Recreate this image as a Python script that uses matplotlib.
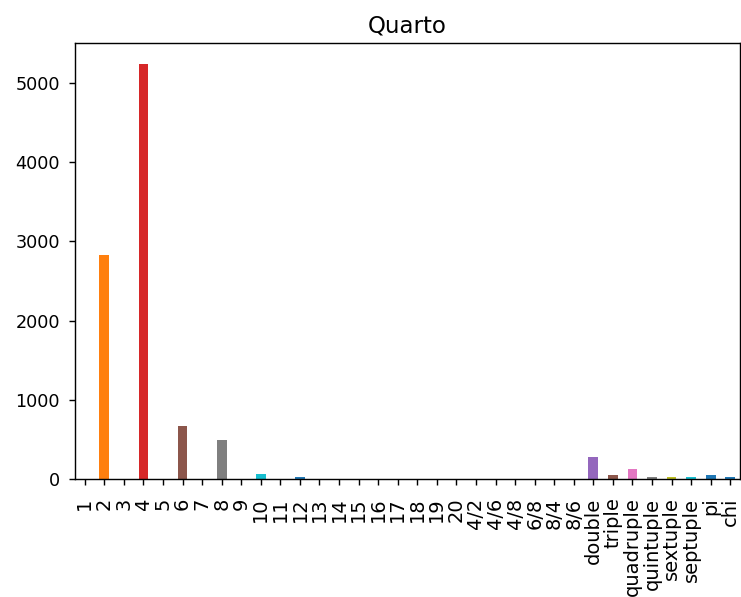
import matplotlib
matplotlib.use("Agg")
import matplotlib.pyplot as plt

# categories and counts
labels = ["1", "2", "3", "4", "5", "6", "7", "8", "9", "10", "11", "12", "13",
          "14", "15", "16", "17", "18", "19", "20", "4/2", "4/6", "4/8", "6/8",
          "8/4", "8/6", "double", "triple", "quadruple", "quintuple",
          "sextuple", "septuple", "pi", "chi"]
counts = [0, 2830, 0, 5240, 0, 665, 0, 490, 0, 60, 0, 30, 0,
          0, 0, 0, 0, 0, 0, 0, 0, 0, 0, 0,
          0, 0, 277, 55, 126, 25,
          30, 30, 55, 30]

tab = plt.get_cmap("tab10").colors
colors = [tab[i % 10] for i in range(len(labels))]
colors[11] = tab[0]
colors[26:34] = [tab[4], tab[5], tab[6], tab[7], tab[8], tab[9], tab[0], tab[0]]

dpi = 127
fig = plt.figure(figsize=(741 / dpi, 597 / dpi), dpi=dpi)
ax = fig.add_subplot(111)
fig.subplots_adjust(left=75 / 741, right=740 / 741, bottom=1 - 479 / 597, top=1 - 43 / 597)

x = range(len(labels))
ax.bar(x, counts, width=0.5, color=colors)
ax.set_xticks(list(x))
ax.set_xticklabels(labels, rotation=90)
ax.set_xlim(-0.5, len(labels) - 0.5)
ax.set_ylim(0, max(counts) * 1.05)
ax.tick_params(axis="x", labelsize=11, pad=7)
ax.tick_params(axis="y", labelsize=10, pad=5)
ax.set_title("Quarto", fontsize=13)

plt.savefig("out.png", dpi=dpi)
